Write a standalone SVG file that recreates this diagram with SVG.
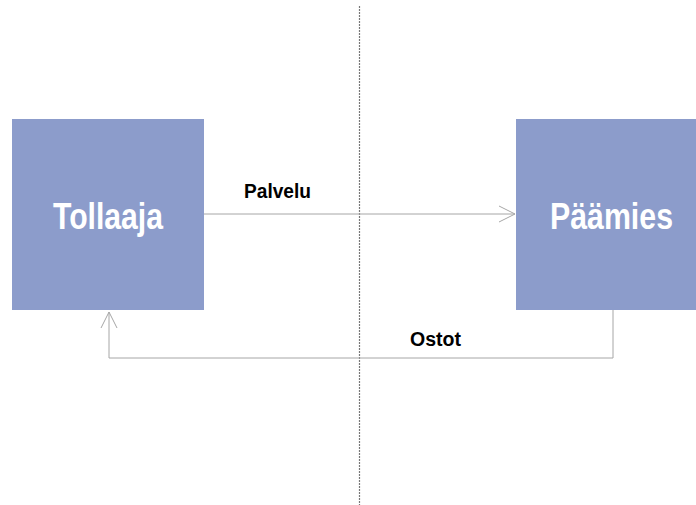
<svg xmlns="http://www.w3.org/2000/svg" width="696" height="505" viewBox="0 0 696 505">
<style>
.box{fill:#8c9ccb}
.nt{font-family:"Liberation Sans",Arial,sans-serif;font-weight:bold;font-size:37px;fill:#fff}
.lt{font-family:"Liberation Sans",Arial,sans-serif;font-weight:bold;font-size:20px;fill:#000}
.c{fill:none;stroke:#a6a6a6;stroke-width:1}
</style>
<defs>
<marker id="ah" viewBox="0 0 20 20" refX="18" refY="10" markerWidth="20" markerHeight="20" markerUnits="userSpaceOnUse" orient="auto">
<path d="M2,2 L18,10 L2,18" fill="none" stroke="#a6a6a6" stroke-width="1"/>
</marker>
</defs>
<line x1="359.5" y1="6" x2="359.5" y2="505" stroke="#777" stroke-width="1.2" stroke-dasharray="2,1"/>
<g id="connectors">
<line class="c" x1="204" y1="214" x2="515" y2="214" marker-end="url(#ah)"/>
<polyline class="c" points="613,310 613,358 109,358 109,312" marker-end="url(#ah)"/>
<text class="lt" x="244" y="198" textLength="67" lengthAdjust="spacingAndGlyphs">Palvelu</text>
<text class="lt" x="410" y="346" textLength="51" lengthAdjust="spacingAndGlyphs">Ostot</text>
</g>
<g id="tollaaja">
<rect class="box" x="12" y="119" width="192" height="191"/>
<text class="nt" x="53" y="229" textLength="110" lengthAdjust="spacingAndGlyphs">Tollaaja</text>
</g>
<g id="paamies">
<rect class="box" x="516" y="119" width="180" height="191"/>
<text class="nt" x="550" y="229" textLength="123" lengthAdjust="spacingAndGlyphs">Päämies</text>
</g>
</svg>
